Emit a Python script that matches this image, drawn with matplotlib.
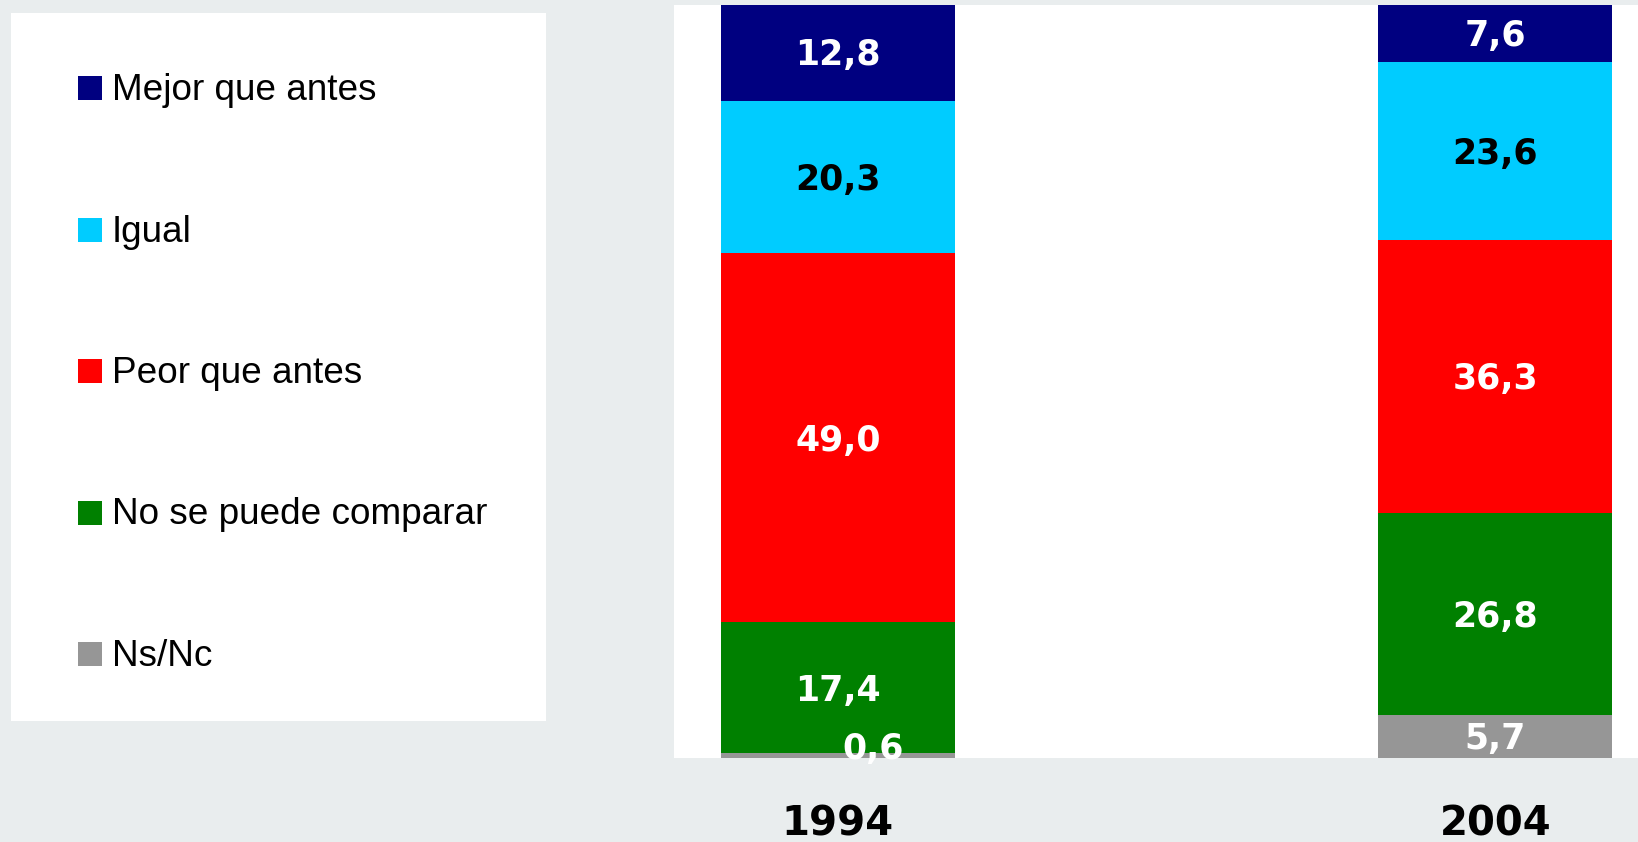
import matplotlib.pyplot as plt
from matplotlib.patches import Rectangle

# Survey answers, 1994 vs 2004 (percent)
years = ["1994", "2004"]
categories = ["Mejor que antes", "Igual", "Peor que antes", "No se puede comparar", "Ns/Nc"]
mejor = [12.8, 7.6]
igual = [20.3, 23.6]
peor = [49.0, 36.3]
no_comparar = [17.4, 26.8]
ns_nc = [0.6, 5.7]

colors = ["#000080", "#00CCFF", "#FF0000", "#008000", "#969696"]
label_colors = ["white", "black", "white", "white", "white"]

W, H = 1638, 842
bg = "#E9EDEE"

fig = plt.figure(figsize=(W / 100, H / 100), dpi=100, facecolor=bg)


def px_box(left, top, right, bottom):
    # pixel box (top-left origin) -> figure fraction [x, y, w, h]
    return [left / W, 1 - bottom / H, (right - left) / W, (bottom - top) / H]


ax = fig.add_axes(px_box(674, 5, 1638, 758))
ax.set_facecolor("white")

series = [mejor, igual, peor, no_comparar, ns_nc]
x = [0, 1]
width = 0.356
label_size = 25

# stack from the bottom: Ns/Nc first, Mejor que antes on top
bottom = [0.0, 0.0]
segments = []
for i in reversed(range(len(series))):
    vals = series[i]
    ax.bar(x, vals, width, bottom=bottom, color=colors[i], edgecolor="none")
    segments.append((i, list(bottom), vals))
    bottom = [b + v for b, v in zip(bottom, vals)]

# digits centred on each slice: baseline dropped by half the digit height
digit_drop = -0.729 * label_size / 2
for i, bots, vals in segments:
    for j in range(len(x)):
        v = vals[j]
        txt = f"{v:.1f}".replace(".", ",")
        xi, yi = x[j], bots[j] + v / 2
        if v < 2:
            # tiny slice: label pushed right and up
            xi, yi = xi + 0.053, yi + 1.3
        ax.annotate(txt, (xi, yi), xytext=(0, digit_drop), textcoords="offset points",
                    ha="center", va="baseline", color=label_colors[i],
                    fontsize=label_size, fontweight="bold", family="DejaVu Sans",
                    annotation_clip=False, zorder=5)

ax.set_xlim(-0.2494, 1.2169)
ax.set_ylim(0, 100)
ax.set_xticks(x, years)
ax.tick_params(axis="x", length=0, pad=33.5, labelsize=29)
for lbl in ax.get_xticklabels():
    lbl.set_fontweight("bold")
    lbl.set_family("DejaVu Sans")
ax.set_yticks([])
for s in ax.spines.values():
    s.set_visible(False)

# legend panel
lx, ly, lw, lh = px_box(11, 13, 546, 721)
fig.add_artist(Rectangle((lx, ly), lw, lh, transform=fig.transFigure,
                         facecolor="white", edgecolor="none", zorder=0))
for k, name in enumerate(categories):
    cy = 88 + 141.5 * k
    sx, sy, sw, sh = px_box(78, cy - 12, 102, cy + 12)
    fig.add_artist(Rectangle((sx, sy), sw, sh, transform=fig.transFigure,
                             facecolor=colors[k], edgecolor="none"))
    fig.text(112 / W, 1 - (cy + 12) / H, name, ha="left", va="baseline",
             fontsize=26.6, family="Liberation Sans", color="black")

fig.savefig("out.png", dpi=100, facecolor=bg)
